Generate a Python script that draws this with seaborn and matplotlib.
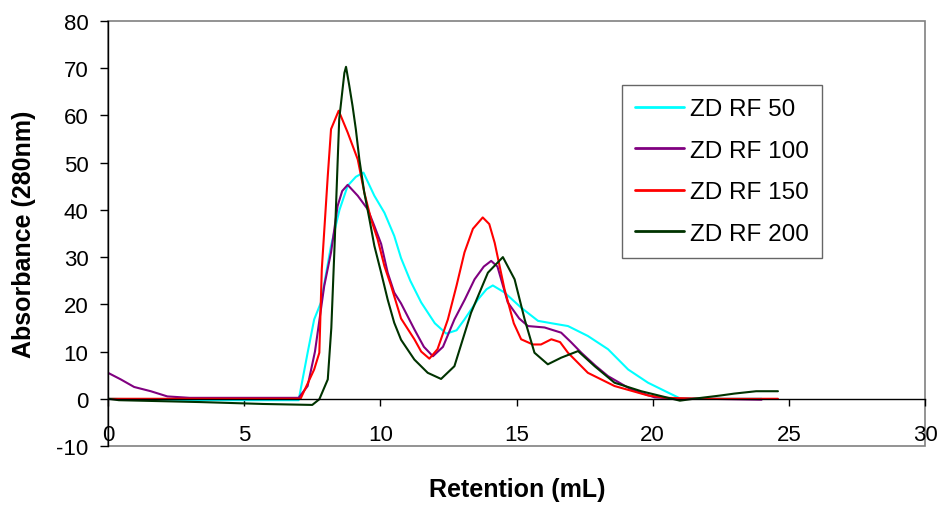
import numpy as np
import pandas as pd
import matplotlib
matplotlib.use("Agg")
import matplotlib.pyplot as plt
from matplotlib.patches import Rectangle
import seaborn as sns

# ---- data ----
series_names = ["ZD RF 50", "ZD RF 100", "ZD RF 150", "ZD RF 200"]
series_colors = ["#00FFFF", "#800080", "#FF0000", "#003300"]

rf50_x = [0, 3.4, 7.0, 7.33, 7.57, 7.82, 8.19, 8.5, 8.80, 9.1, 9.38, 9.78, 10.15,
          10.51, 10.76, 11.1, 11.5, 12.0, 12.42, 12.8, 13.09, 13.58, 13.9, 14.13,
          14.56, 15.17, 15.79, 16.28, 16.89, 17.62, 18.36, 19.1, 19.83, 20.57, 21.0,
          22.0, 24.0]
rf50_y = [0, -0.3, -0.3, 9.75, 16.8, 20.4, 32.4, 40, 45.1, 47, 47.9, 43, 39.4,
          34.5, 29.8, 25, 20.4, 16, 13.8, 14.5, 16.8, 21, 23.2, 24.0,
          22.5, 19.3, 16.5, 16.0, 15.4, 13.3, 10.5, 6.2, 3.4, 1.3, 0.1,
          0, 0]

rf100_x = [0, 0.47, 0.96, 1.57, 2.18, 3.0, 7.0, 7.33, 7.6, 7.94, 8.19, 8.43, 8.6,
           8.80, 9.17, 9.54, 9.78, 10.03, 10.27, 10.51, 10.76, 11.25, 11.6, 11.93,
           12.3, 12.72, 13.1, 13.46, 13.8, 14.07, 14.3, 14.68, 15.1, 15.42, 16.03,
           16.64, 17.0, 17.38, 17.9, 18.36, 19.2, 20.07, 21.0, 22.0, 24.0]
rf100_y = [5.5, 4.1, 2.5, 1.6, 0.5, 0.2, 0.2, 2.7, 10, 23.9, 31, 40.8, 44,
           45.3, 43, 40.1, 36.6, 32.8, 26.7, 22.5, 20.2, 14.7, 11, 9.0,
           11, 16.8, 21, 25.3, 28, 29.2, 28, 20.4, 17, 15.4, 15.1,
           14.0, 12, 9.75, 7, 4.8, 2.0, 0.3, 0, 0, -0.2]

rf150_x = [0, 7.07, 7.57, 7.76, 7.85, 8.07, 8.19, 8.47, 8.80, 9.17, 9.41, 9.66,
           9.9, 10.15, 10.39, 10.76, 11.25, 11.5, 11.80, 12.1, 12.48, 12.8, 13.09,
           13.4, 13.76, 14.0, 14.2, 14.56, 14.9, 15.17, 15.6, 15.9, 16.28, 16.6,
           16.89, 17.62, 18.6, 19.83, 20.5, 22.0, 24.6]
rf150_y = [0, 0, 6.2, 9.75, 27.4, 47.2, 57.1, 61.0, 56.4, 50.7, 43.7, 38,
           33.8, 28.1, 24, 17, 12.6, 10, 8.5, 10.5, 16.8, 24, 31.0,
           36, 38.4, 37, 33, 23.2, 16, 12.6, 11.5, 11.5, 12.6, 12,
           9.75, 5.5, 2.7, 0.7, 0.2, 0, 0]

rf200_x = [0, 0.4, 3.4, 5.7, 7.5, 7.76, 8.07, 8.2, 8.31, 8.49, 8.68, 8.74, 8.86,
           8.98, 9.1, 9.23, 9.41, 9.6, 9.78, 10.03, 10.27, 10.51, 10.76, 11.25,
           11.74, 12.23, 12.72, 13.33, 13.95, 14.5, 14.93, 15.3, 15.66, 16.15,
           16.64, 17.26, 17.87, 18.6, 19.58, 20.5, 21.0, 21.5, 22.5, 23.0, 23.8, 24.6]
rf200_y = [0, -0.3, -0.7, -1.1, -1.3, -0.1, 4.1, 15, 31, 59.2, 69, 70.3, 66.3,
           62, 57.1, 50.7, 43.7, 38, 32.4, 26.7, 21, 16.1, 12.5, 8.3,
           5.5, 4.2, 6.9, 18.2, 26.7, 30.0, 25.3, 16.8, 9.75, 7.3,
           8.7, 10.1, 6.9, 3.4, 1.6, 0.3, -0.4, 0, 0.7, 1.1, 1.6, 1.6]

x_ticks = [0, 5, 10, 15, 20, 25, 30]
y_ticks = [-10, 0, 10, 20, 30, 40, 50, 60, 70, 80]

frames = []
for name, xs, ys in zip(series_names,
                        [rf50_x, rf100_x, rf150_x, rf200_x],
                        [rf50_y, rf100_y, rf150_y, rf200_y]):
    frames.append(pd.DataFrame({"Retention": xs, "Absorbance": ys, "Series": name}))
df = pd.concat(frames, ignore_index=True)

sns.set_style("white")
plt.rcParams["font.family"] = ["Liberation Sans", "DejaVu Sans"]
plt.rcParams["axes.unicode_minus"] = False
plt.rcParams["text.color"] = "black"
plt.rcParams["xtick.color"] = "black"
plt.rcParams["ytick.color"] = "black"
plt.rcParams["axes.labelcolor"] = "black"

fig = plt.figure(figsize=(9.43, 5.10), dpi=100)
ax = fig.add_axes([108 / 943, 1 - 447 / 510, 817 / 943, 425 / 510])

sns.lineplot(data=df, x="Retention", y="Absorbance", hue="Series",
             hue_order=series_names, palette=series_colors, sort=False,
             estimator=None, linewidth=1.5, ax=ax)

ax.set_xlim(0, 30)
ax.set_ylim(-10, 80)
ax.set_xticks(x_ticks)
ax.set_yticks(y_ticks)

for s in ["top", "right"]:
    ax.spines[s].set_visible(False)
ax.spines["left"].set_color("black")
ax.spines["left"].set_linewidth(1.0)
ax.spines["bottom"].set_position(("data", 0))
ax.spines["bottom"].set_color("black")
ax.spines["bottom"].set_linewidth(1.0)
ax.add_patch(Rectangle((0, 0), 1, 1, transform=ax.transAxes, fill=False,
                       edgecolor="#808080", linewidth=1.2, clip_on=False, zorder=0))

ax.tick_params(axis="x", direction="out", length=5, width=1, color="black",
               labelsize=16, labelcolor="black", pad=13)
ax.tick_params(axis="y", direction="out", length=6, width=1, color="black",
               labelsize=16, labelcolor="black", pad=8)
ax.xaxis.set_ticks_position("bottom")
ax.yaxis.set_ticks_position("left")

ax.set_xlabel("Retention (mL)", fontsize=18, fontweight="bold", color="black")
ax.set_ylabel("Absorbance (280nm)", fontsize=18, fontweight="bold", color="black")
ax.xaxis.set_label_coords(0.5006, -0.072)
ax.yaxis.set_label_coords(-0.088, 0.5)

leg = ax.legend(loc="upper left", bbox_to_anchor=((622 - 108) / 817, (447 - 86) / 425),
                borderaxespad=0, fontsize=17.5, frameon=True, fancybox=False,
                handlelength=2.0, handletextpad=0.25, labelspacing=0.8,
                borderpad=0.55, title=None)
leg.get_frame().set_edgecolor("#404040")
leg.get_frame().set_linewidth(1.0)
for t in leg.get_texts():
    t.set_color("black")
for line in leg.get_lines():
    line.set_linewidth(2)

fig.savefig("out.png", dpi=100)
